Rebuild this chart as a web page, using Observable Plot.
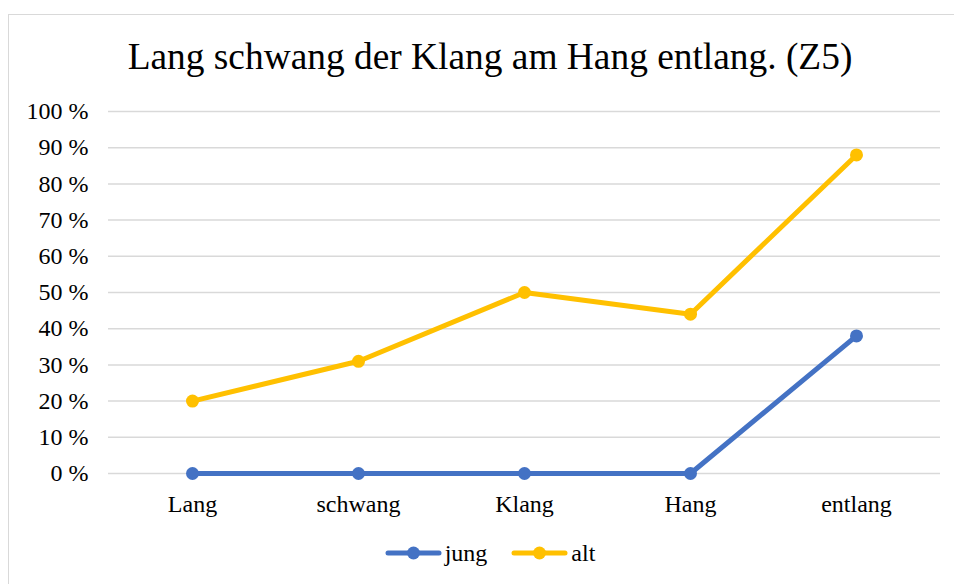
<!DOCTYPE html>
<html>
<head>
<meta charset="utf-8">
<script src="https://cdn.jsdelivr.net/npm/d3@7"></script>
<script src="https://cdn.jsdelivr.net/npm/@observablehq/plot@0.6"></script>
<style>
  html, body { margin: 0; padding: 0; background: #fff; }
  #wrap { position: relative; width: 954px; height: 584px; overflow: hidden; font-family: "Liberation Serif", "Times New Roman", serif; color: #000; }
  #frame { position: absolute; left: 8px; top: 14px; width: 960px; height: 600px; border: 1.5px solid #d9d9d9; box-sizing: border-box; pointer-events: none; }
  #title { position: relative; height: 95px; box-sizing: border-box; padding-top: 38px; font-size: 37.4px; line-height: 38px; text-align: center; padding-left: 26px; white-space: nowrap; }
  #chart { position: relative; height: 425px; }
  #chart svg text { font-family: "Liberation Serif", "Times New Roman", serif; }
  #legend { position: relative; display: flex; justify-content: center; align-items: center; height: 62px; margin-top: 2px; font-size: 24px; padding-left: 26px; box-sizing: border-box; }
  .item { display: flex; align-items: center; margin: 0 12px; }
  .item svg { margin-right: 3px; }
</style>
</head>
<body>
<div id="wrap">
  <div id="frame"></div>
  <div id="title">Lang schwang der Klang am Hang entlang. (Z5)</div>
  <div id="chart"></div>
  <div id="legend"></div>
</div>
<script>
const categories = ["Lang", "schwang", "Klang", "Hang", "entlang"];
const seriesNames = ["jung", "alt"];
const seriesColors = ["#4472C4", "#FFC000"];
const jung = [0, 0, 0, 0, 38];
const alt = [20, 31, 50, 44, 88];
const yTicks = [0, 10, 20, 30, 40, 50, 60, 70, 80, 90, 100];

const valuesBySeries = { jung, alt };
const data = seriesNames.flatMap(s => categories.map((c, i) => ({ series: s, cat: c, value: valuesBySeries[s][i] })));
const fmt = d => d + " %";
const serif = '"Liberation Serif", "Times New Roman", serif';

const chart = Plot.plot({
  width: 954,
  height: 425,
  marginTop: 16,
  marginBottom: 47,
  marginLeft: 108,
  marginRight: 14,
  style: { fontFamily: serif, fontSize: "24px", color: "#000", background: "transparent", overflow: "visible" },
  x: { type: "point", domain: categories, padding: 0.5, label: null },
  y: { domain: [0, 100], label: null },
  color: { domain: seriesNames, range: seriesColors },
  marks: [
    Plot.gridY(yTicks, { stroke: "#d9d9d9", strokeOpacity: 1, strokeWidth: 1.5 }),
    Plot.axisY(yTicks, { tickSize: 0, tickPadding: 20, tickFormat: fmt, label: null, fontFamily: serif }),
    Plot.axisX({ tickSize: 0, tickPadding: 21, label: null, fontFamily: serif }),
    Plot.line(data, { x: "cat", y: "value", z: "series", stroke: "series", strokeWidth: 5, strokeLinejoin: "round", strokeLinecap: "round" }),
    Plot.dot(data, { x: "cat", y: "value", fill: "series", r: 6.5 })
  ]
});
document.getElementById("chart").appendChild(chart);

const legend = document.getElementById("legend");
seriesNames.forEach((s, i) => {
  const item = document.createElement("div");
  item.className = "item";
  item.innerHTML = `<svg width="57" height="16"><line x1="3" y1="8" x2="54" y2="8" stroke="${seriesColors[i]}" stroke-width="5" stroke-linecap="round"/><circle cx="28.5" cy="8" r="6.5" fill="${seriesColors[i]}"/></svg><span>${s}</span>`;
  legend.appendChild(item);
});
</script>
</body>
</html>
